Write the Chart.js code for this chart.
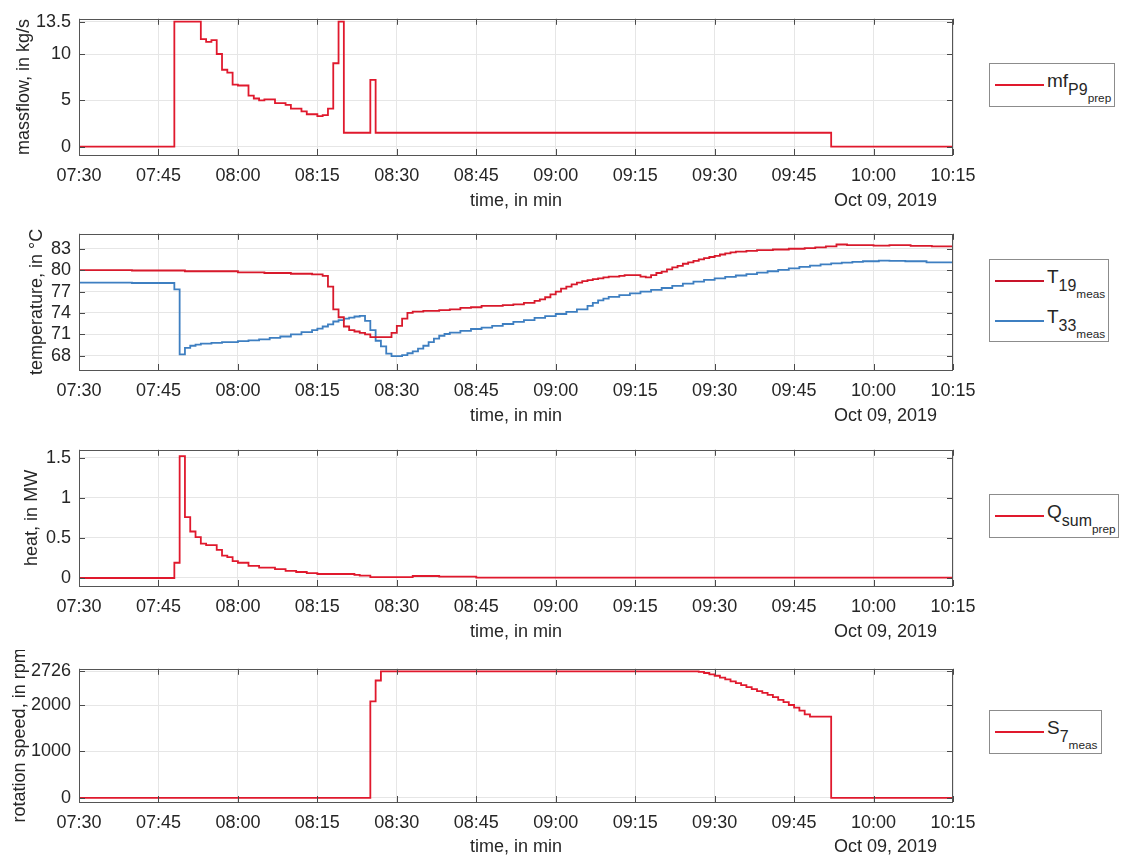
<!DOCTYPE html>
<html>
<head>
<meta charset="utf-8">
<script src="https://cdn.jsdelivr.net/npm/chart.js@4.4.0/dist/chart.umd.min.js"></script>
<style>
html,body{margin:0;padding:0;background:#fff;width:1121px;height:859px;overflow:hidden;font-family:'Liberation Sans',Arial,Helvetica,sans-serif;}
canvas{position:absolute;left:0;}
.leg{position:absolute;left:989px;border:1px solid #8c8c8c;background:#fff;box-sizing:border-box;}
.ent{display:flex;align-items:center;}
.ln{width:49px;height:2px;margin-left:5px;flex:none;}
.tx{margin-left:3px;font-size:19px;color:#262626;line-height:1;white-space:nowrap;}
.tx sub{font-size:0.84em;vertical-align:-0.5em;line-height:0;}
.tx sub sub{font-size:0.74em;vertical-align:-0.6em;}
</style>
</head>
<body>
<canvas id="c1" width="1121" height="215" style="top:0px"></canvas>
<canvas id="c2" width="1121" height="215" style="top:215px"></canvas>
<canvas id="c3" width="1121" height="215" style="top:431px"></canvas>
<canvas id="c4" width="1121" height="209" style="top:650px"></canvas>

<div class="leg" style="top:63px;width:126px;height:44px;">
  <div class="ent" style="height:42px;"><span class="ln" style="background:#e0192d"></span><span class="tx">mf<sub>P9<sub>prep</sub></sub></span></div>
</div>
<div class="leg" style="top:259px;width:120px;height:83px;">
  <div class="ent" style="height:41px;"><span class="ln" style="background:#c8142a"></span><span class="tx">T<sub>19<sub>meas</sub></sub></span></div>
  <div class="ent" style="height:40px;"><span class="ln" style="background:#3e7fc1"></span><span class="tx">T<sub>33<sub>meas</sub></sub></span></div>
</div>
<div class="leg" style="top:494px;width:130px;height:44px;">
  <div class="ent" style="height:42px;"><span class="ln" style="background:#e0192d"></span><span class="tx">Q<sub>sum<sub>prep</sub></sub></span></div>
</div>
<div class="leg" style="top:710px;width:113px;height:44px;">
  <div class="ent" style="height:42px;"><span class="ln" style="background:#e0192d"></span><span class="tx">S<sub>7<sub>meas</sub></sub></span></div>
</div>

<script>
// ---- axis ticks (minutes after 07:30) ----
const xTickValues = [0, 15, 30, 45, 60, 75, 90, 105, 120, 135, 150, 165];
const xTickLabels = ['07:30', '07:45', '08:00', '08:15', '08:30', '08:45', '09:00', '09:15', '09:30', '09:45', '10:00', '10:15'];
const dateLabel = 'Oct 09, 2019';
const xTitle = 'time, in min';

const mfTicks = [0, 5, 10, 13.5];
const mfTickLabels = ['0', '5', '10', '13.5'];
const tempTicks = [68, 71, 74, 77, 80, 83];
const tempTickLabels = ['68', '71', '74', '77', '80', '83'];
const heatTicks = [0, 0.5, 1, 1.5];
const heatTickLabels = ['0', '0.5', '1', '1.5'];
const speedTicks = [0, 1000, 2000, 2726];
const speedTickLabels = ['0', '1000', '2000', '2726'];

// ---- series (time in minutes after 07:30, stair values) ----
const mfTime = [0, 18, 23, 24, 25, 26, 27, 28, 29, 30, 32, 33, 34, 35, 37, 39, 40, 42, 43, 45, 46, 47, 48, 49, 50, 55, 56, 142, 165];
const mfValue = [0, 13.5, 11.6, 11.3, 11.5, 10.0, 8.3, 8.0, 6.7, 6.6, 5.5, 5.2, 5.0, 5.1, 4.7, 4.5, 4.1, 3.8, 3.5, 3.3, 3.4, 4.1, 9.0, 13.5, 1.5, 7.2, 1.5, 0, 0];

const t19Time = [0, 10, 20, 30, 35, 40, 44, 46, 47, 48, 49, 50, 51, 52, 53, 54, 55, 59, 60, 61, 62, 63, 65, 68, 70, 72, 74, 76, 80, 82, 84, 86, 87, 88, 89, 90, 91, 92, 93, 94, 95, 96, 97, 98, 99, 100, 102, 103, 106, 107, 108, 109, 110, 111, 112, 113, 114, 115, 116, 117, 118, 119, 120, 121, 122, 123, 124, 126, 128, 131, 134, 137, 139, 141, 143, 145, 150, 153, 157, 161, 165];
const t19Value = [80.0, 79.95, 79.85, 79.7, 79.6, 79.5, 79.4, 79.2, 77.7, 74.5, 73.4, 72.1, 71.6, 71.4, 71.2, 71.0, 70.6, 71.2, 72.2, 73.2, 74.0, 74.2, 74.3, 74.4, 74.5, 74.7, 74.8, 75.0, 75.1, 75.2, 75.4, 75.7, 75.9, 76.2, 76.6, 77.0, 77.4, 77.7, 78.0, 78.25, 78.45, 78.6, 78.75, 78.85, 79.0, 79.1, 79.2, 79.3, 79.1, 79.0, 79.3, 79.6, 79.8, 80.1, 80.4, 80.6, 80.9, 81.1, 81.3, 81.5, 81.7, 81.85, 82.0, 82.2, 82.35, 82.5, 82.6, 82.7, 82.8, 82.9, 83.0, 83.1, 83.2, 83.35, 83.6, 83.5, 83.45, 83.5, 83.4, 83.35, 83.3];

const t33Time = [0, 10, 18, 19, 20, 21, 22, 23, 25, 27, 30, 32, 34, 36, 38, 40, 42, 44, 45, 46, 47, 48, 49, 50, 51, 52, 53, 54, 55, 56, 57, 58, 59, 61, 62, 63, 64, 65, 66, 67, 68, 69, 70, 72, 74, 76, 78, 80, 82, 84, 86, 88, 90, 92, 94, 96, 97, 98, 99, 100, 102, 104, 106, 108, 110, 112, 114, 116, 118, 120, 122, 124, 126, 128, 130, 132, 134, 136, 138, 140, 142, 144, 146, 148, 151, 153, 156, 160, 165];
const t33Value = [78.25, 78.2, 77.3, 68.2, 69.1, 69.4, 69.55, 69.7, 69.8, 69.9, 70.05, 70.15, 70.3, 70.5, 70.7, 71.0, 71.3, 71.6, 71.8, 72.1, 72.4, 72.8, 73.0, 73.2, 73.35, 73.5, 73.6, 72.9, 71.6, 70.1, 69.3, 68.3, 67.95, 68.1, 68.35, 68.6, 69.0, 69.4, 69.9, 70.4, 70.8, 71.05, 71.25, 71.5, 71.75, 71.95, 72.2, 72.45, 72.75, 73.0, 73.3, 73.55, 73.85, 74.15, 74.5, 75.0, 75.4, 75.75, 76.0, 76.25, 76.5, 76.75, 77.0, 77.25, 77.5, 77.8, 78.1, 78.4, 78.65, 78.85, 79.05, 79.25, 79.45, 79.65, 79.85, 80.05, 80.25, 80.45, 80.65, 80.8, 80.95, 81.05, 81.15, 81.25, 81.35, 81.3, 81.25, 81.1, 81.0];

const qTime = [0, 18, 19, 20, 21, 22, 23, 24, 26, 27, 28, 29, 30, 32, 34, 37, 39, 41, 43, 45, 52, 53, 55, 63, 68, 75, 165];
const qValue = [0, 0.19, 1.52, 0.76, 0.58, 0.51, 0.43, 0.41, 0.35, 0.28, 0.26, 0.21, 0.19, 0.15, 0.13, 0.11, 0.09, 0.075, 0.06, 0.05, 0.04, 0.03, 0.012, 0.025, 0.016, 0.004, 0.004];

const sTime = [0, 55, 56, 57, 117, 118, 119, 120, 121, 122, 123, 124, 125, 126, 127, 128, 129, 130, 131, 132, 133, 134, 135, 136, 137, 138, 142, 165];
const sValue = [0, 2079, 2528, 2726, 2715, 2690, 2660, 2630, 2590, 2550, 2510, 2470, 2430, 2385, 2340, 2300, 2260, 2220, 2170, 2110, 2060, 2000, 1945, 1880, 1800, 1750, 0, 0];

// ---- styling ----
const FONT_FAMILY = "'Liberation Sans', Arial, Helvetica, sans-serif";
const FONT = { family: FONT_FAMILY, size: 18, lineHeight: 1.2 };
const TEXT = '#262626';
const RED = '#e0192d';
const DARKRED = '#d8192b';
const BLUE = '#3e7fc1';

const framePlugin = {
  id: 'frame',
  afterDraw(chart) {
    const { ctx, chartArea: a, scales } = chart;
    const x = scales.x, y = scales.y;
    ctx.save();
    ctx.strokeStyle = '#4a4a4a';
    ctx.lineWidth = 1;
    ctx.beginPath();
    x.ticks.forEach(t => {
      const p = Math.round(x.getPixelForValue(t.value)) + 0.5;
      ctx.moveTo(p, a.bottom); ctx.lineTo(p, a.bottom - 6);
      ctx.moveTo(p, a.top); ctx.lineTo(p, a.top + 6);
    });
    y.ticks.forEach(t => {
      const p = Math.round(y.getPixelForValue(t.value)) + 0.5;
      ctx.moveTo(a.left, p); ctx.lineTo(a.left + 6, p);
      ctx.moveTo(a.right, p); ctx.lineTo(a.right - 6, p);
    });
    ctx.stroke();
    ctx.strokeStyle = '#555555';
    ctx.strokeRect(Math.round(a.left) + 0.5, Math.round(a.top) + 0.5, Math.round(a.right - a.left) - 1, Math.round(a.bottom - a.top));
    const pad = chart.options.scales.x.title.padding.bottom;
    ctx.fillStyle = TEXT;
    ctx.font = FONT.size + 'px ' + FONT_FAMILY;
    ctx.textAlign = 'right';
    ctx.textBaseline = 'middle';
    ctx.fillText(dateLabel, a.right - 16, x.bottom - (FONT.size * FONT.lineHeight / 2 + pad));
    ctx.restore();
  }
};

function stairs(times, values) {
  return times.map((t, i) => ({ x: t, y: values[i] }));
}

function panel(id, cfg) {
  return new Chart(document.getElementById(id), {
    type: 'line',
    data: {
      datasets: cfg.series.map(s => ({
        data: stairs(s.t, s.v),
        borderColor: s.color,
        borderWidth: 1.8,
        pointRadius: 0,
        stepped: true,
        fill: false,
        tension: 0
      }))
    },
    options: {
      responsive: false,
      animation: false,
      events: [],
      layout: { padding: { left: 0, right: 168, top: cfg.padTop, bottom: 0 } },
      plugins: { legend: { display: false }, tooltip: { enabled: false } },
      scales: {
        x: {
          type: 'linear', min: 0, max: 165,
          afterBuildTicks: s => { s.ticks = xTickValues.map(v => ({ value: v })); },
          afterFit: s => { s.height = cfg.xHeight; },
          ticks: { callback: (v, i) => xTickLabels[i], maxRotation: 0, autoSkip: false, padding: 10, color: TEXT, font: FONT },
          grid: { color: '#e6e6e6', drawTicks: false, lineWidth: 1 },
          border: { display: false },
          title: { display: true, text: xTitle, color: TEXT, font: FONT, padding: { top: 0, bottom: cfg.xTitlePad } }
        },
        y: {
          type: 'linear', min: cfg.yMin, max: cfg.yMax,
          afterBuildTicks: s => { s.ticks = cfg.yTicks.map(v => ({ value: v })); },
          afterFit: s => { s.width = 79; },
          ticks: { callback: (v, i) => cfg.yLabels[i], padding: 8, color: TEXT, font: FONT },
          grid: { color: '#e6e6e6', drawTicks: false, lineWidth: 1 },
          border: { display: false },
          title: { display: true, text: cfg.yTitle, color: TEXT, font: FONT, padding: { top: cfg.yTitlePad, bottom: 0 } }
        }
      }
    },
    plugins: [framePlugin]
  });
}

panel('c1', {
  padTop: 15, xHeight: 60, xTitlePad: 3, yTitlePad: 13,
  yMin: -0.9, yMax: 13.8, yTicks: mfTicks, yLabels: mfTickLabels,
  yTitle: 'massflow, in kg/s',
  series: [{ t: mfTime, v: mfValue, color: RED }]
});
panel('c2', {
  padTop: 15, xHeight: 60, xTitlePad: 3, yTitlePad: 26,
  yMin: 66.0, yMax: 85.1, yTicks: tempTicks, yLabels: tempTickLabels,
  yTitle: 'temperature, in °C',
  series: [{ t: t19Time, v: t19Value, color: DARKRED }, { t: t33Time, v: t33Value, color: BLUE }]
});
panel('c3', {
  padTop: 15, xHeight: 60, xTitlePad: 3, yTitlePad: 21,
  yMin: -0.1, yMax: 1.6, yTicks: heatTicks, yLabels: heatTickLabels,
  yTitle: 'heat, in MW',
  series: [{ t: qTime, v: qValue, color: RED }]
});
panel('c4', {
  padTop: 12, xHeight: 57, xTitlePad: 1, yTitlePad: 9,
  yMin: -90, yMax: 2780, yTicks: speedTicks, yLabels: speedTickLabels,
  yTitle: 'rotation speed, in rpm',
  series: [{ t: sTime, v: sValue, color: RED }]
});
</script>
</body>
</html>
